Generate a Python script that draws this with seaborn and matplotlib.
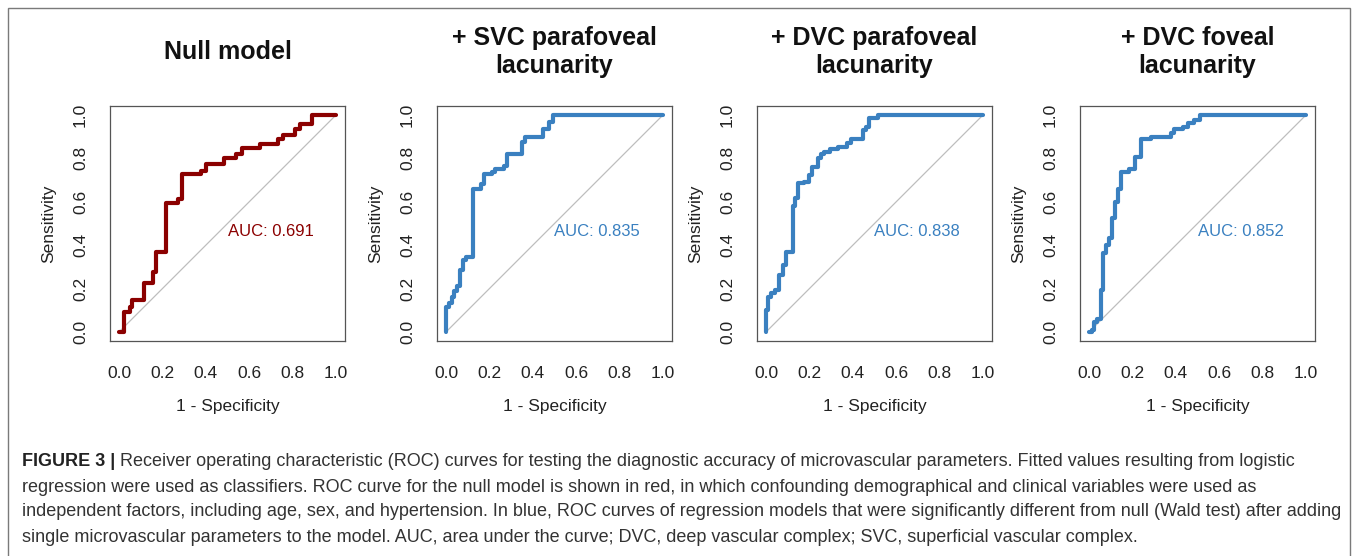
import numpy as np
import pandas as pd
import matplotlib.pyplot as plt
import seaborn as sns
from matplotlib.patches import Rectangle

# ROC CURVE DATA (corners of each step)

null_fpr = [0.0, 0.023, 0.05, 0.06, 0.117, 0.155, 0.17, 0.215, 0.27, 0.292, 0.378, 0.40,
            0.485, 0.538, 0.566, 0.648, 0.732, 0.755, 0.81, 0.835, 0.889, 1.0]
null_tpr = [0.0, 0.092, 0.115, 0.149, 0.228, 0.275, 0.367, 0.594, 0.613, 0.728, 0.742, 0.775,
            0.80, 0.82, 0.847, 0.867, 0.888, 0.908, 0.936, 0.957, 1.0, 1.0]

svc_para_fpr = [0.0, 0.0, 0.014, 0.026, 0.038, 0.052, 0.063, 0.08, 0.091, 0.126, 0.162, 0.177,
                0.211, 0.226, 0.269, 0.283, 0.351, 0.365, 0.445, 0.475, 0.495, 1.0]
svc_para_tpr = [0.0, 0.115, 0.133, 0.161, 0.187, 0.21, 0.287, 0.33, 0.344, 0.66, 0.681, 0.728,
                0.739, 0.752, 0.764, 0.819, 0.877, 0.897, 0.934, 0.969, 1.0, 1.0]

dvc_para_fpr = [0.0, 0.0, 0.011, 0.023, 0.042, 0.062, 0.077, 0.092, 0.123, 0.134, 0.146, 0.177,
                0.20, 0.211, 0.238, 0.254, 0.269, 0.295, 0.334, 0.372, 0.391, 0.445, 0.46,
                0.475, 0.514, 1.0]
dvc_para_tpr = [0.0, 0.103, 0.161, 0.179, 0.195, 0.264, 0.31, 0.367, 0.581, 0.617, 0.686, 0.693,
                0.724, 0.762, 0.804, 0.82, 0.831, 0.844, 0.854, 0.87, 0.89, 0.931, 0.943,
                0.988, 1.0, 1.0]

dvc_fov_fpr = [0.0, 0.012, 0.025, 0.038, 0.054, 0.066, 0.078, 0.094, 0.105, 0.12, 0.132, 0.148,
               0.186, 0.212, 0.24, 0.286, 0.378, 0.392, 0.432, 0.458, 0.482, 0.512, 1.0]
dvc_fov_tpr = [0.0, 0.011, 0.046, 0.061, 0.195, 0.363, 0.399, 0.432, 0.525, 0.601, 0.66, 0.739,
               0.752, 0.808, 0.89, 0.90, 0.916, 0.934, 0.943, 0.962, 0.977, 1.0, 1.0]

titles = ["Null model", "+ SVC parafoveal\nlacunarity",
          "+ DVC parafoveal\nlacunarity", "+ DVC foveal\nlacunarity"]
auc_labels = ["AUC: 0.691", "AUC: 0.835", "AUC: 0.838", "AUC: 0.852"]
tick_values = [0.0, 0.2, 0.4, 0.6, 0.8, 1.0]
tick_labels = ["0.0", "0.2", "0.4", "0.6", "0.8", "1.0"]

curves = [(null_fpr, null_tpr), (svc_para_fpr, svc_para_tpr),
          (dvc_para_fpr, dvc_para_tpr), (dvc_fov_fpr, dvc_fov_tpr)]

RED = "#8B0000"
BLUE = "#3A80C0"
colors = [RED, BLUE, BLUE, BLUE]

caption_bold = "FIGURE 3 | "
caption_lines = [
    "Receiver operating characteristic (ROC) curves for testing the diagnostic accuracy of microvascular parameters. Fitted values resulting from logistic",
    "regression were used as classifiers. ROC curve for the null model is shown in red, in which confounding demographical and clinical variables were used as",
    "independent factors, including age, sex, and hypertension. In blue, ROC curves of regression models that were significantly different from null (Wald test) after adding",
    "single microvascular parameters to the model. AUC, area under the curve; DVC, deep vascular complex; SVC, superficial vascular complex.",
]

# STYLE

sns.set_style("white")
plt.rcParams["font.family"] = ["Liberation Sans", "DejaVu Sans"]

W, H = 1357, 556
fig = plt.figure(figsize=(W / 100, H / 100), dpi=100)

# outer frame of the figure box
fig.patches.append(Rectangle((8 / W, -0.05), 1342 / W, 1.05 - 8 / H,
                             transform=fig.transFigure, fill=False,
                             edgecolor="#7a7a7a", linewidth=1.0))

# PANELS

box_left = [110.3, 437.3, 757.3, 1080.3]
box_top, box_size = 106.3, 234.4

for i in range(4):
    ax = fig.add_axes([box_left[i] / W, 1 - (box_top + box_size) / H,
                       box_size / W, box_size / H])
    fpr, tpr = curves[i]
    df = pd.DataFrame({"fpr": fpr, "tpr": tpr})

    ax.plot([0, 1], [0, 1], color="#BEBEBE", linewidth=0.9, zorder=1)
    sns.lineplot(data=df, x="fpr", y="tpr", ax=ax, estimator=None, sort=False,
                 drawstyle="steps-post", color=colors[i], linewidth=3.0, zorder=3)

    ax.set_xlim(-0.04, 1.04)
    ax.set_ylim(-0.04, 1.04)
    ax.set_xticks(tick_values)
    ax.set_xticklabels(tick_labels)
    ax.set_yticks(tick_values)
    ax.set_yticklabels(tick_labels, rotation=90, va="center")
    ax.tick_params(axis="both", direction="out", length=6, width=0.8,
                   color="#333333", labelsize=12.5, labelcolor="#222222")
    ax.tick_params(axis="x", pad=12)
    ax.tick_params(axis="y", pad=10)
    for sp in ax.spines.values():
        sp.set_color("#555555")
        sp.set_linewidth(0.9)

    ax.set_xlabel("1 - Specificity", fontsize=12.5, color="#222222", labelpad=13)
    ax.set_ylabel("Sensitivity", fontsize=12.5, color="#222222", labelpad=12)

    ax.text(0.5, 0.465, auc_labels[i], color=colors[i], fontsize=12,
            ha="left", va="center")
    ax.text(0.5, 1 + (box_top - 52) / box_size, titles[i], transform=ax.transAxes,
            ha="center", va="center", fontsize=18, fontweight="bold",
            multialignment="center", linespacing=1.2, color="#111111")

# CAPTION

renderer = fig.canvas.get_renderer()
cap_x = 22 / W
line_y = [462, 487, 512, 537]

probe = fig.text(0, 0, caption_lines[2], fontsize=12)
width_px = probe.get_window_extent(renderer).width
probe.remove()
cap_size = 12 * 1318 / width_px

bold = fig.text(cap_x, 1 - line_y[0] / H, caption_bold, fontsize=cap_size,
                fontweight="bold", va="center", color="#222222")
bold_w = bold.get_window_extent(renderer).width / W

for k, line in enumerate(caption_lines):
    x0 = cap_x + bold_w if k == 0 else cap_x
    fig.text(x0, 1 - line_y[k] / H, line, fontsize=cap_size, va="center",
             color="#333333")

fig.savefig("out.png", dpi=100)
